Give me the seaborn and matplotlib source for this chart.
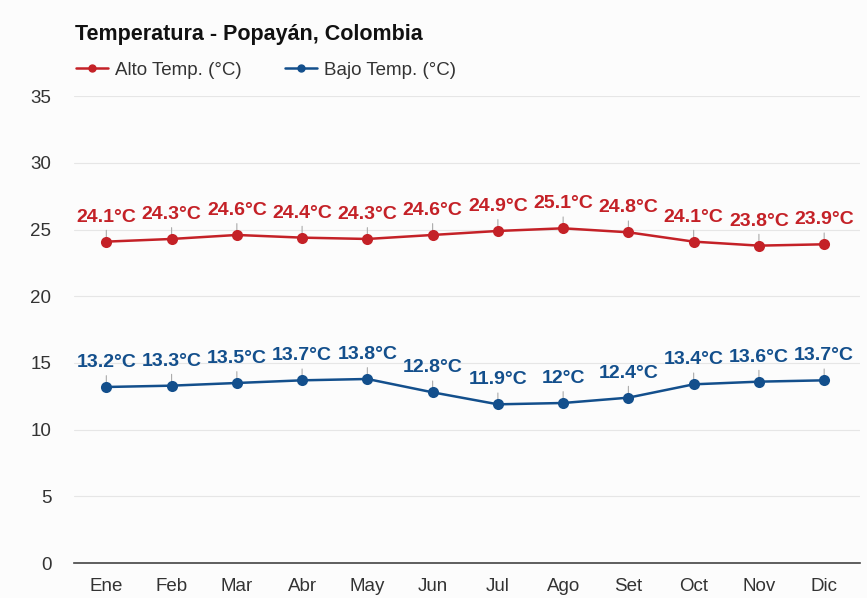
import pandas as pd
import matplotlib.pyplot as plt
import seaborn as sns
from matplotlib.lines import Line2D

months = ["Ene", "Feb", "Mar", "Abr", "May", "Jun", "Jul", "Ago", "Set", "Oct", "Nov", "Dic"]
alto = [24.1, 24.3, 24.6, 24.4, 24.3, 24.6, 24.9, 25.1, 24.8, 24.1, 23.8, 23.9]
bajo = [13.2, 13.3, 13.5, 13.7, 13.8, 12.8, 11.9, 12.0, 12.4, 13.4, 13.6, 13.7]
series = ["Alto Temp. (°C)", "Bajo Temp. (°C)"]
colors = ["#c42127", "#134f8c"]

df = pd.DataFrame({
    "mes": list(range(12)) * 2,
    "temp": alto + bajo,
    "serie": [series[0]] * 12 + [series[1]] * 12,
})

sns.set_style("white")
plt.rcParams["font.family"] = ["Liberation Sans", "DejaVu Sans"]

fig = plt.figure(figsize=(8.67, 5.98), dpi=100, facecolor="#fcfcfc")
ax = fig.add_axes([0.085, 0.0585, 0.907, 0.7805])
ax.set_facecolor("#fcfcfc")

sns.lineplot(data=df, x="mes", y="temp", hue="serie", palette=colors,
             marker="o", markersize=8, linewidth=1.8, markeredgewidth=0,
             legend=False, ax=ax, zorder=3)

for vals, c in zip([alto, bajo], colors):
    for i, v in enumerate(vals):
        txt = f"{v:g}°C"
        ax.annotate(txt, (i, v), xytext=(0, 16), textcoords="offset pixels",
                    ha="center", va="bottom", fontsize=14, fontweight="bold", color=c,
                    zorder=2,
                    arrowprops=dict(arrowstyle="-", color="#aaaaaa", lw=0.8,
                                    shrinkA=1, shrinkB=3))

ax.set_xlim(-0.5, 11.55)
ax.set_ylim(0, 35)
ax.set_yticks(range(0, 36, 5))
ax.set_xticks(range(12))
ax.set_xticklabels(months)
ax.set_xlabel("")
ax.set_ylabel("")
ax.grid(axis="y", color="#e6e6e6", lw=0.8)
ax.set_axisbelow(True)
for s in ["top", "right", "left"]:
    ax.spines[s].set_visible(False)
ax.spines["bottom"].set_color("#444444")
ax.spines["bottom"].set_linewidth(1.2)
ax.tick_params(axis="both", length=0, labelsize=13.5, colors="#333333")
ax.tick_params(axis="y", pad=16)
ax.tick_params(axis="x", pad=11)

fig.text(0.086, 0.942, "Temperatura - Popayán, Colombia", fontsize=15.5,
         fontweight="bold", color="#111111", va="center")

handles = [Line2D([], [], color=c, marker="o", markersize=5, lw=1.8) for c in colors]
fig.legend(handles, series, loc="center left", bbox_to_anchor=(0.068, 0.883),
           frameon=False, fontsize=13.5, handlelength=1.7, handletextpad=0.4,
           columnspacing=2.3, ncol=2, labelcolor="#333333")

fig.savefig("out.png", dpi=100, facecolor=fig.get_facecolor())
